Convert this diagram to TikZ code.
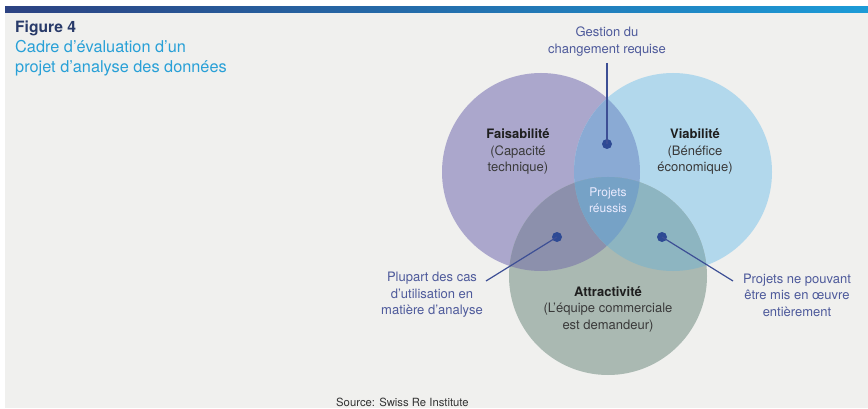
\documentclass[tikz,border=0pt]{standalone}
\usepackage{fontspec}
\setmainfont{TeX Gyre Heros}
\definecolor{bgc}{RGB}{240,240,238}
\definecolor{barL}{RGB}{44,66,130}
\definecolor{barR}{RGB}{28,155,215}
\definecolor{titleC}{RGB}{40,58,105}
\definecolor{subC}{RGB}{40,160,215}
\definecolor{purpC}{RGB}{171,167,204}
\definecolor{blueC}{RGB}{178,216,236}
\definecolor{greenC}{RGB}{170,185,178}
\definecolor{pbC}{RGB}{138,170,212}
\definecolor{pgC}{RGB}{140,144,172}
\definecolor{bgrC}{RGB}{141,181,193}
\definecolor{midC}{RGB}{118,162,198}
\definecolor{lblC}{RGB}{78,90,155}
\definecolor{dotC}{RGB}{46,74,148}
\definecolor{lineC}{RGB}{61,79,149}
\definecolor{headC}{RGB}{30,30,30}
\definecolor{subtxtC}{RGB}{58,58,58}
\tikzset{
  lbl/.style={font=\fontsize{13}{16.5}\selectfont, text=lblC, align=center, inner sep=0pt},
  circlbl/.style={font=\fontsize{13}{16.5}\selectfont, text=subtxtC, align=center, inner sep=0pt},
  subtitle/.style={anchor=base west, inner sep=0pt, font=\fontsize{16.3}{20.5}\selectfont, text=subC},
  dotst/.style={circle, fill=dotC, minimum size=10pt, inner sep=0pt},
  conn/.style={draw=lineC, line width=1.2pt},
}
\begin{document}
\begin{tikzpicture}[x=1pt,y=-1pt]
\useasboundingbox (0,0) rectangle (868,409);
\fill[white] (0,0) rectangle (868,409);
\fill[bgc] (5,7) rectangle (868,408);
\shade[left color=barL, right color=barR] (5,7) rectangle (868,13);
% title
\node[anchor=base west, inner sep=0pt, font=\fontsize{15.6}{18}\selectfont\bfseries, text=titleC] (fig) at (15,32.5) {Figure 4};
\node[subtitle] (sub1) at (15,52.5) {Cadre d'évaluation d'un};
\node[subtitle] (sub2) at (15,72.5) {projet d'analyse des données};
% circles
\coordinate (cF) at (541,172);
\coordinate (cV) at (673,172);
\coordinate (cA) at (608,276);
\fill[purpC] (cF) circle (99pt);
\fill[blueC] (cV) circle (99pt);
\fill[greenC] (cA) circle (99pt);
\begin{scope}\clip (cF) circle (99pt); \fill[pbC] (cV) circle (99pt);\end{scope}
\begin{scope}\clip (cF) circle (99pt); \fill[pgC] (cA) circle (99pt);\end{scope}
\begin{scope}\clip (cV) circle (99pt); \fill[bgrC] (cA) circle (99pt);\end{scope}
\begin{scope}\clip (cF) circle (99pt); \clip (cV) circle (99pt); \fill[midC] (cA) circle (99pt);\end{scope}
% circle texts
\node[circlbl] (fais) at (518,152) {\textbf{\color{headC}Faisabilité}\\(Capacité\\technique)};
\node[circlbl] (viab) at (695,152) {\textbf{\color{headC}Viabilité}\\(Bénéfice\\économique)};
\node[circlbl] (attr) at (608,309) {\textbf{\color{headC}Attractivité}\\(L’équipe commerciale\\est demandeur)};
\node[font=\fontsize{12}{16}\selectfont, text=white!92!blue, align=center, inner sep=0pt] (reus) at (608,200) {Projets\\réussis};
% labels
\node[lbl] (gest) at (607,41.5) {Gestion du\\changement requise};
\node[lbl] (plup) at (432,295) {Plupart des cas\\d’utilisation en\\matière d’analyse};
\node[lbl] (proj) at (797,295) {Projets ne pouvant\\être mis en œuvre\\entièrement};
% dots and connectors
\node[dotst] (d1) at (607,144) {};
\node[dotst] (d2) at (557,237) {};
\node[dotst] (d3) at (662,237) {};
\coordinate (gc) at (607,63);
\coordinate (pc) at (486,281);
\coordinate (rc) at (733,281);
\draw[conn, line width=1.6pt] (gc) -- (d1.center);
\draw[conn] (pc) -- (d2.center);
\draw[conn] (rc) -- (d3.center);
% source
\node[anchor=base west, inner sep=0pt, font=\fontsize{11.3}{13}\selectfont, text=black!80] (src) at (336,406) {Source: Swiss Re Institute};
\end{tikzpicture}
\end{document}
